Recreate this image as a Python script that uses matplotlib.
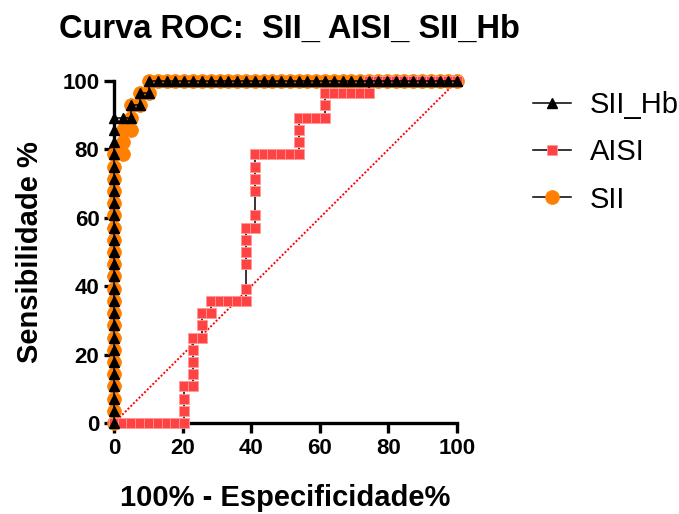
import matplotlib
matplotlib.use("Agg")
import matplotlib.pyplot as plt

plt.rcParams['font.family'] = ['Liberation Sans', 'DejaVu Sans']

# ---- data (percent) ----
hb_fpr = [0, 0, 0, 0, 0, 0, 0, 0, 0, 0, 0, 0, 0, 0, 0, 0, 0, 0, 0, 0, 0, 0, 0, 0, 0, 0,
          2.6, 5.1, 5.1, 7.7, 7.7, 10.3, 10.3,
          12.8, 15.4, 17.9, 20.5, 23.1, 25.6, 28.2, 30.8, 33.3, 35.9, 38.5, 41.0, 43.6,
          46.2, 48.7, 51.3, 53.8, 56.4, 59.0, 61.5, 64.1, 66.7, 69.2, 71.8, 74.4, 76.9,
          79.5, 82.1, 84.6, 87.2, 89.7, 92.3, 94.9, 97.4, 100]
hb_tpr = [0, 3.6, 7.1, 10.7, 14.3, 17.9, 21.4, 25.0, 28.6, 32.1, 35.7, 39.3, 42.9, 46.4,
          50.0, 53.6, 57.1, 60.7, 64.3, 67.9, 71.4, 75.0, 78.6, 82.1, 85.7, 89.3,
          89.3, 89.3, 92.9, 92.9, 96.4, 96.4, 100,
          100, 100, 100, 100, 100, 100, 100, 100, 100, 100, 100, 100, 100, 100, 100, 100,
          100, 100, 100, 100, 100, 100, 100, 100, 100, 100, 100, 100, 100, 100, 100, 100,
          100, 100, 100]

aisi_fpr = [0, 2.6, 5.1, 7.7, 10.3, 12.8, 15.4, 17.9, 20.5,
            20.5, 20.5, 20.5,
            23.1, 23.1, 23.1, 23.1, 23.1,
            25.6, 25.6, 25.6,
            28.2, 28.2,
            30.8, 33.3, 35.9, 38.5,
            38.5, 38.5, 38.5, 38.5, 38.5,
            41.0, 41.0, 41.0, 41.0, 41.0, 41.0,
            43.6, 46.2, 48.7, 51.3, 53.8,
            53.8, 53.8, 53.8,
            56.4, 59.0, 61.5,
            61.5, 61.5,
            64.1, 66.7, 69.2, 71.8, 74.4,
            74.4, 76.9, 79.5, 82.1, 84.6, 87.2, 89.7, 92.3, 94.9, 97.4, 100]
aisi_tpr = [0, 0, 0, 0, 0, 0, 0, 0, 0,
            3.6, 7.1, 10.7,
            10.7, 14.3, 17.9, 21.4, 25.0,
            25.0, 28.6, 32.1,
            32.1, 35.7,
            35.7, 35.7, 35.7, 35.7,
            39.3, 46.4, 50.0, 53.6, 57.1,
            57.1, 60.7, 67.9, 71.4, 75.0, 78.6,
            78.6, 78.6, 78.6, 78.6, 78.6,
            82.1, 85.7, 89.3,
            89.3, 89.3, 89.3,
            92.9, 96.4,
            96.4, 96.4, 96.4, 96.4, 96.4,
            100, 100, 100, 100, 100, 100, 100, 100, 100, 100, 100]

sii_fpr = [0, 0, 0, 0, 0, 0, 0, 0, 0, 0, 0, 0, 0, 0, 0, 0, 0, 0, 0, 0, 0, 0, 0,
           2.6, 2.6, 2.6, 5.1, 5.1, 5.1, 7.7, 7.7, 10.3, 10.3,
           12.8, 15.4, 17.9, 20.5, 23.1, 25.6, 28.2, 30.8, 33.3, 35.9, 38.5, 41.0, 43.6,
           46.2, 48.7, 51.3, 53.8, 56.4, 59.0, 61.5, 64.1, 66.7, 69.2, 71.8, 74.4, 76.9,
           79.5, 82.1, 84.6, 87.2, 89.7, 92.3, 94.9, 97.4, 100]
sii_tpr = [0, 3.6, 7.1, 10.7, 14.3, 17.9, 21.4, 25.0, 28.6, 32.1, 35.7, 39.3, 42.9, 46.4,
           50.0, 53.6, 57.1, 60.7, 64.3, 67.9, 71.4, 75.0, 78.6,
           78.6, 82.1, 85.7, 85.7, 89.3, 92.9, 92.9, 96.4, 96.4, 100,
           100, 100, 100, 100, 100, 100, 100, 100, 100, 100, 100, 100, 100, 100, 100, 100,
           100, 100, 100, 100, 100, 100, 100, 100, 100, 100, 100, 100, 100, 100, 100, 100,
           100, 100, 100]

ref_x = [0, 100]
ref_y = [0, 100]

ticks = [0, 20, 40, 60, 80, 100]
title = "Curva ROC:  SII_ AISI_ SII_Hb"
xlabel = "100% - Especificidade%"
ylabel = "Sensibilidade %"

# ---- figure ----
fig = plt.figure(figsize=(6.79, 5.14), dpi=100)
ax = fig.add_axes([114 / 679, 91 / 514, 343 / 679, 342 / 514])

ax.plot(ref_x, ref_y, color='#FF0000', linestyle=(0, (1, 1)), linewidth=1.4, zorder=2)

l_sii, = ax.plot(sii_fpr, sii_tpr, color='black', linewidth=1.1, marker='o',
                 markersize=10, markerfacecolor='#FF8000', markeredgecolor='#FF8000',
                 markeredgewidth=0.5, clip_on=False, zorder=3, label='SII')
l_aisi, = ax.plot(aisi_fpr, aisi_tpr, color='black', linewidth=1.1, marker='s',
                  markersize=7.8, markerfacecolor='#FF4343', markeredgecolor='#FF9A9A',
                  markeredgewidth=0.6, clip_on=False, zorder=4, label='AISI')
l_hb, = ax.plot(hb_fpr, hb_tpr, color='black', linewidth=1.1, marker='^',
                markersize=7.5, markerfacecolor='black', markeredgecolor='black',
                clip_on=False, zorder=5, label='SII_Hb')

ax.set_xlim(0, 100)
ax.set_ylim(0, 100)
ax.set_xticks(ticks)
ax.set_yticks(ticks)
for s in ['top', 'right']:
    ax.spines[s].set_visible(False)
for s in ['left', 'bottom']:
    ax.spines[s].set_linewidth(2.4)
ax.tick_params(axis='both', direction='out', length=7.5, width=2.4, labelsize=16, pad=3)
for lab in ax.get_xticklabels() + ax.get_yticklabels():
    lab.set_fontweight('bold')

ax.set_xlabel(xlabel, fontsize=21, fontweight='bold', labelpad=18)
ax.set_ylabel(ylabel, fontsize=21, fontweight='bold', labelpad=13)
fig.text(289 / 679, 1 - 29 / 514, title, fontsize=23.5, fontweight='bold',
         ha='center', va='center')

leg = fig.legend(handles=[l_hb, l_aisi, l_sii], loc='upper left',
                 bbox_to_anchor=(533 / 679, 1 - 91 / 514), frameon=False,
                 fontsize=21, handlelength=1.3, handletextpad=0.66,
                 labelspacing=0.66, borderpad=0, borderaxespad=0)

fig.savefig('out.png', dpi=100)
